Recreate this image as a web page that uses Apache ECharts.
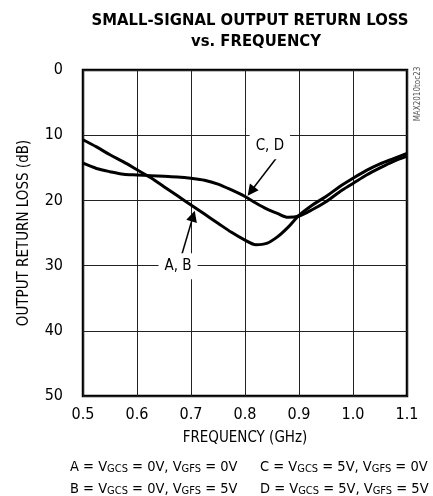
<!DOCTYPE html>
<html>
<head>
<meta charset="utf-8">
<script src="https://cdn.jsdelivr.net/npm/echarts@6/dist/echarts.min.js"></script>
<style>
html,body{margin:0;padding:0;background:#fff;}
#chart{width:433px;height:496px;}
</style>
</head>
<body>
<div id="chart"></div>
<script>
var FONT = "'DejaVu Sans Condensed','Liberation Sans',sans-serif";

var freqGHz = [0.5, 0.525, 0.55, 0.575, 0.6, 0.625, 0.65, 0.675, 0.7, 0.725, 0.75, 0.775, 0.8, 0.82, 0.84, 0.86, 0.88, 0.9, 0.925, 0.95, 0.975, 1.0, 1.025, 1.05, 1.075, 1.1];
var lossAB = [10.7, 11.8, 13.0, 14.1, 15.3, 16.5, 17.9, 19.3, 20.7, 22.1, 23.5, 24.9, 26.1, 26.8, 26.6, 25.6, 24.1, 22.3, 20.7, 19.4, 17.9, 16.6, 15.4, 14.4, 13.6, 12.8];
var lossCD = [14.3, 15.1, 15.6, 16.0, 16.1, 16.2, 16.3, 16.4, 16.6, 16.9, 17.5, 18.4, 19.4, 20.4, 21.3, 22.0, 22.6, 22.4, 21.4, 20.2, 18.7, 17.4, 16.1, 15.0, 14.0, 13.2];

var xTicks = [0.5, 0.6, 0.7, 0.8, 0.9, 1.0, 1.1];
var yTicks = [0, 10, 20, 30, 40, 50];

var labelAB = {text: 'A, B', at: [0.676, 30.1], arrowFrom: [0.683, 28.3], arrowTo: [0.704, 22.4]};
var labelCD = {text: 'C, D', at: [0.846, 11.7], arrowFrom: [0.861, 13.2], arrowTo: [0.811, 18.6]};

var titleLines = ['SMALL-SIGNAL OUTPUT RETURN LOSS', 'vs. FREQUENCY'];
var xName = 'FREQUENCY (GHz)';
var yName = 'OUTPUT RETURN LOSS (dB)';
var conditions = [['A', 0, 0], ['B', 0, 5], ['C', 5, 0], ['D', 5, 5]];
var figId = 'MAX2010toc23';

function pairs(xs, ys){ return xs.map(function(x,i){ return [x, ys[i]]; }); }

var headSym = 'path://M7,0 L9.5,14 L4.5,14 Z';

function annot(lbl){
  return {
    markLine: {
      silent: true,
      symbol: ['none', headSym],
      symbolSize: 11,
      lineStyle: {color: '#000', width: 1.5, type: 'solid'},
      label: {show: false},
      data: [[{coord: lbl.arrowFrom}, {coord: lbl.arrowTo}]]
    },
    markPoint: {
      silent: true,
      symbol: 'rect',
      symbolSize: 0,
      label: {
        show: true, position: 'inside', formatter: lbl.text,
        color: '#000', fontFamily: FONT, fontSize: 15,
        backgroundColor: '#fff', padding: [6, 6, 5, 6]
      },
      data: [{coord: lbl.at}]
    }
  };
}

var seriesAB = Object.assign({
  name: 'A, B', type: 'line', smooth: 0.3, showSymbol: false,
  lineStyle: {color: '#000', width: 3}, data: pairs(freqGHz, lossAB), z: 3
}, annot(labelAB));
var seriesCD = Object.assign({
  name: 'C, D', type: 'line', smooth: 0.3, showSymbol: false,
  lineStyle: {color: '#000', width: 3}, data: pairs(freqGHz, lossCD), z: 3
}, annot(labelCD));

var sub = {fontFamily: FONT, fontSize: 11, fontWeight: 'normal', color: '#000', padding: [4, 0, 0, 0], verticalAlign: 'bottom'};
var nor = {fontFamily: FONT, fontSize: 14.5, fontWeight: 'normal', color: '#000', verticalAlign: 'bottom'};
function cond(c){
  return '{n|' + c[0] + ' = V}{s|GCS}{n| = ' + c[1] + 'V, V}{s|GFS}{n| = ' + c[2] + 'V}';
}
var condPos = [[70, 460], [70, 482], [260, 460], [260, 482]];

var titles = [
  {text: titleLines[0], left: 245, top: 7, textAlign: 'center',
   textStyle: {fontFamily: FONT, fontWeight: 'bold', fontSize: 16.5, color: '#000'}},
  {text: titleLines[1], left: 251, top: 28, textAlign: 'center',
   textStyle: {fontFamily: FONT, fontWeight: 'bold', fontSize: 16.5, color: '#000'}}
];
conditions.forEach(function(c, i){
  titles.push({text: cond(c), left: condPos[i][0], top: condPos[i][1], padding: 0,
    textStyle: {fontWeight: 'normal', rich: {n: nor, s: sub}}});
});

var chart = echarts.init(document.getElementById('chart'), null, {renderer: 'canvas'});
chart.setOption({
  backgroundColor: '#fff',
  animation: false,
  title: titles,
  graphic: [{
    type: 'text', x: 417.5, y: 94, rotation: Math.PI / 2,
    style: {text: figId, fill: '#555', font: '8px ' + FONT, align: 'center', verticalAlign: 'middle'}
  }],
  grid: {left: 83, right: 26, top: 70, bottom: 100, show: true, borderColor: '#000', borderWidth: 2.5, backgroundColor: 'transparent'},
  xAxis: {
    type: 'value', min: 0.5, max: 1.1, interval: 0.1,
    name: xName, nameLocation: 'middle', nameGap: 35,
    nameTextStyle: {fontFamily: FONT, fontSize: 15, color: '#000'},
    axisLine: {show: false}, axisTick: {show: false},
    axisLabel: {fontFamily: FONT, fontSize: 16, color: '#000', margin: 11,
      formatter: function(v){ return v.toFixed(1); }},
    splitLine: {show: true, lineStyle: {color: '#222', width: 1}}
  },
  yAxis: {
    type: 'value', min: 0, max: 50, interval: 10, inverse: true,
    name: yName, nameLocation: 'middle', nameGap: 51, nameRotate: 90,
    nameTextStyle: {fontFamily: FONT, fontSize: 15, color: '#000'},
    axisLine: {show: false}, axisTick: {show: false},
    axisLabel: {fontFamily: FONT, fontSize: 16, color: '#000', margin: 20},
    splitLine: {show: true, lineStyle: {color: '#222', width: 1}}
  },
  series: [seriesAB, seriesCD]
});
</script>
</body>
</html>
